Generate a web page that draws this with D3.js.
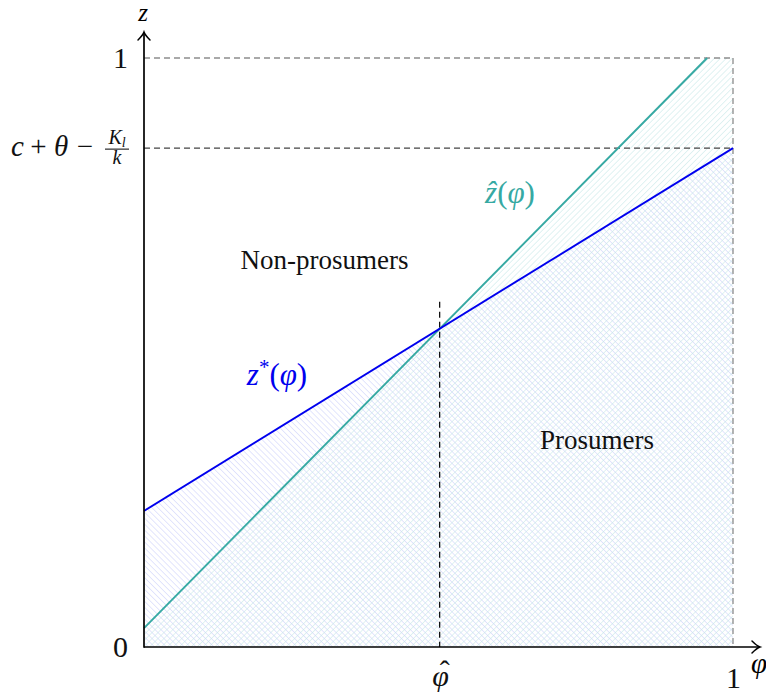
<!DOCTYPE html>
<html><head><meta charset="utf-8">
<script src="https://cdn.jsdelivr.net/npm/d3@7"></script>
<style>
body{margin:0;background:#fff;}
svg{display:block;}
text{font-family:"Liberation Serif","DejaVu Serif",serif;}
</style></head>
<body><svg id="c" width="766" height="694"></svg>
<script>
// ---- data ----
const zStarPts = [[0, 0.231], [1, 0.847]];        // z*(φ)
const zHatPts  = [[0, 0.032], [0.956, 1]];        // ẑ(φ)
const phiHat = 0.502;                              // intersection
const zHatTop = 0.586;                             // top of φ̂ dashed guide
const zLevel = 0.847;                              // c + θ − K_l/k
const xTickValues = [phiHat, 1];
const xTickLabels = ["φ", "1"];
const yTickValues = [0, 1];
const yTickLabels = ["0", "1"];
const regionLabels = [
  {text: "Non-prosumers", x: 0.3065, y: 0.642},
  {text: "Prosumers", x: 0.769, y: 0.336}
];

const blue = "#0000ee", teal = "#36a9a3";
const svg = d3.select("#c");
const x = d3.scaleLinear().domain([0, 1]).range([144, 733]);
const y = d3.scaleLinear().domain([0, 1]).range([647, 58]);

const defs = svg.append("defs");
function hatch(id, color, angle) {
  const p = defs.append("pattern").attr("id", id)
    .attr("patternUnits", "userSpaceOnUse").attr("width", 4.2).attr("height", 4.2)
    .attr("patternTransform", `rotate(${angle})`);
  p.append("line").attr("x1", 0).attr("y1", -1).attr("x2", 0).attr("y2", 6)
    .attr("stroke", color).attr("stroke-width", 1);
}
hatch("hb", "#c8ccfa", -45);
hatch("ht", "#c2e6e5", 45);

const line = d3.line().x(d => x(d[0])).y(d => y(d[1]));
const blueRegion = [[0, 0], zStarPts[0], zStarPts[1], [1, 0]];
const tealRegion = [[0, 0], zHatPts[0], zHatPts[1], [1, 1], [1, 0]];
svg.append("path").attr("d", line(blueRegion) + "Z").attr("fill", "url(#hb)");
svg.append("path").attr("d", line(tealRegion) + "Z").attr("fill", "url(#ht)");

// dashed guides
const dash = "6,4";
svg.append("line").attr("x1", x(0)).attr("x2", x(1)).attr("y1", y(1)).attr("y2", y(1))
  .attr("stroke", "#555").attr("stroke-width", 1.2).attr("stroke-dasharray", dash);
svg.append("line").attr("x1", x(0)).attr("x2", x(1)).attr("y1", y(zLevel)).attr("y2", y(zLevel))
  .attr("stroke", "#444").attr("stroke-width", 1.2).attr("stroke-dasharray", dash);
svg.append("line").attr("x1", x(1)).attr("x2", x(1)).attr("y1", y(1)).attr("y2", y(0))
  .attr("stroke", "#777").attr("stroke-width", 1.1).attr("stroke-dasharray", dash);
svg.append("line").attr("x1", x(phiHat)).attr("x2", x(phiHat)).attr("y1", y(zHatTop)).attr("y2", y(0))
  .attr("stroke", "#000").attr("stroke-width", 1.2).attr("stroke-dasharray", dash);

// curves
svg.append("path").attr("d", line(zHatPts)).attr("stroke", teal).attr("stroke-width", 1.9).attr("fill", "none");
svg.append("path").attr("d", line(zStarPts)).attr("stroke", blue).attr("stroke-width", 1.9).attr("fill", "none");

// axes
const xAxis = d3.axisBottom(x).tickValues(xTickValues).tickSize(0).tickPadding(20)
  .tickFormat((d, i) => xTickLabels[i]);
const gx = svg.append("g").attr("transform", `translate(0,${y(0)})`).call(xAxis);
gx.select(".domain").remove();
gx.selectAll("text").attr("font-family", "Liberation Serif, serif").attr("font-size", 30).attr("fill", "#111");
// φ̂ : italic φ with a hat placed over it
gx.selectAll("text").filter((d, i) => i === 0).each(function () {
  const t = d3.select(this).text(null).attr("text-anchor", "start").attr("x", -8).attr("dy", "0.62em");
  t.append("tspan").attr("font-style", "italic").text("φ");
  t.append("tspan").attr("dx", -9).attr("dy", -5).text("ˆ");
});

const yAxis = d3.axisLeft(y).tickValues(yTickValues).tickSize(0).tickPadding(16)
  .tickFormat((d, i) => yTickLabels[i]);
const gy = svg.append("g").attr("transform", `translate(${x(0)},0)`).call(yAxis);
gy.select(".domain").remove();
gy.selectAll("text").attr("font-family", "Liberation Serif, serif").attr("font-size", 30).attr("fill", "#111");

// axis lines with arrows
svg.append("line").attr("x1", x(0)).attr("y1", y(0)).attr("x2", 759).attr("y2", y(0))
  .attr("stroke", "#000").attr("stroke-width", 1.7);
svg.append("line").attr("x1", x(0)).attr("y1", y(0) + 0.8).attr("x2", x(0)).attr("y2", 33)
  .attr("stroke", "#000").attr("stroke-width", 1.7);
svg.append("path").attr("d", `M${752},${y(0) - 6} Q${757},${y(0) - 1} ${760},${y(0)} Q${757},${y(0) + 1} ${752},${y(0) + 6}`)
  .attr("fill", "none").attr("stroke", "#000").attr("stroke-width", 1.5).attr("stroke-linecap", "round");
svg.append("path").attr("d", `M${x(0) - 6},${40} Q${x(0) - 1},${35} ${x(0)},${32} Q${x(0) + 1},${35} ${x(0) + 6},${40}`)
  .attr("fill", "none").attr("stroke", "#000").attr("stroke-width", 1.5).attr("stroke-linecap", "round");

// axis names
svg.append("text").attr("x", 143).attr("y", 21).attr("text-anchor", "middle")
  .attr("font-style", "italic").attr("font-size", 25).text("z");
svg.append("text").attr("x", 759).attr("y", 673).attr("text-anchor", "middle")
  .attr("font-style", "italic").attr("font-size", 29).text("φ");

// c + θ − K_l / k
const ly = y(zLevel);
const parts = [
  {t: "c", cx: 17.5, it: true},
  {t: "+", cx: 38.5, it: false},
  {t: "θ", cx: 61, it: true},
  {t: "−", cx: 85, it: false}
];
svg.selectAll(".lvl").data(parts).join("text").attr("class", "lvl")
  .attr("x", d => d.cx).attr("y", ly + 8).attr("text-anchor", "middle")
  .attr("font-size", 29).attr("font-style", d => d.it ? "italic" : null).attr("fill", "#111").text(d => d.t);
const fx = 117;
const num = svg.append("text").attr("x", fx).attr("y", ly - 4).attr("text-anchor", "middle").attr("font-size", 20).attr("fill", "#111");
num.append("tspan").attr("font-style", "italic").text("K");
num.append("tspan").attr("font-style", "italic").attr("font-size", 14).attr("dy", 3).text("l");
svg.append("line").attr("x1", fx - 12).attr("x2", fx + 12).attr("y1", ly + 1).attr("y2", ly + 1)
  .attr("stroke", "#000").attr("stroke-width", 1);
svg.append("text").attr("x", fx).attr("y", ly + 16).attr("text-anchor", "middle")
  .attr("font-style", "italic").attr("font-size", 20).attr("fill", "#111").text("k");

// curve labels
const zh = svg.append("text").attr("x", 510).attr("y", 203).attr("text-anchor", "middle")
  .attr("font-size", 31).attr("fill", teal);
zh.append("tspan").attr("font-style", "italic").text("ẑ");
zh.append("tspan").text("(");
zh.append("tspan").attr("font-style", "italic").text("φ");
zh.append("tspan").text(")");
const zs = svg.append("text").attr("x", 277).attr("y", 385).attr("text-anchor", "middle")
  .attr("font-size", 31).attr("fill", blue);
zs.append("tspan").attr("font-style", "italic").text("z");
zs.append("tspan").attr("font-size", 21).attr("dy", -11).text("*");
zs.append("tspan").attr("dy", 11).text("(");
zs.append("tspan").attr("font-style", "italic").text("φ");
zs.append("tspan").text(")");

// region labels
svg.selectAll(".rl").data(regionLabels).join("text").attr("class", "rl")
  .attr("x", d => x(d.x)).attr("y", d => y(d.y)).attr("text-anchor", "middle")
  .attr("font-size", 27).attr("fill", "#111").text(d => d.text);
</script></body></html>
